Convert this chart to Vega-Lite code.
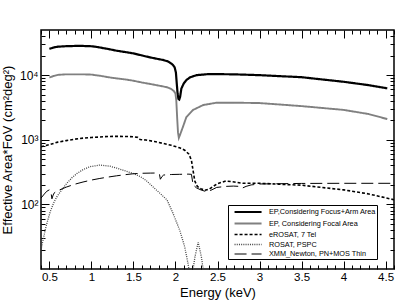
{
  "$schema": "https://vega.github.io/schema/vega-lite/v6.json",
  "width": 353,
  "height": 239,
  "autosize": {"type": "none"},
  "padding": {"left": 41, "top": 30, "right": 13, "bottom": 31},
  "config": {
    "font": "Liberation Sans",
    "view": {"stroke": "black", "strokeWidth": 1.5},
    "axis": {"grid": false, "domain": false, "tickColor": "black", "tickWidth": 1, "labelColor": "black", "titleColor": "black", "labelFlush": false, "titleFontWeight": "normal"}
  },
  "data": {"values": [
    {"s":"EP,Considering Focus+Arm Area","e":0.50,"v":25500},
    {"s":"EP,Considering Focus+Arm Area","e":0.55,"v":26800},
    {"s":"EP,Considering Focus+Arm Area","e":0.60,"v":27600},
    {"s":"EP,Considering Focus+Arm Area","e":0.70,"v":28100},
    {"s":"EP,Considering Focus+Arm Area","e":0.80,"v":28300},
    {"s":"EP,Considering Focus+Arm Area","e":0.90,"v":28300},
    {"s":"EP,Considering Focus+Arm Area","e":1.00,"v":28000},
    {"s":"EP,Considering Focus+Arm Area","e":1.05,"v":27500},
    {"s":"EP,Considering Focus+Arm Area","e":1.10,"v":26800},
    {"s":"EP,Considering Focus+Arm Area","e":1.20,"v":25400},
    {"s":"EP,Considering Focus+Arm Area","e":1.30,"v":23900},
    {"s":"EP,Considering Focus+Arm Area","e":1.40,"v":22800},
    {"s":"EP,Considering Focus+Arm Area","e":1.50,"v":21700},
    {"s":"EP,Considering Focus+Arm Area","e":1.60,"v":20200},
    {"s":"EP,Considering Focus+Arm Area","e":1.70,"v":18800},
    {"s":"EP,Considering Focus+Arm Area","e":1.80,"v":17700},
    {"s":"EP,Considering Focus+Arm Area","e":1.85,"v":17200},
    {"s":"EP,Considering Focus+Arm Area","e":1.90,"v":16500},
    {"s":"EP,Considering Focus+Arm Area","e":1.93,"v":15800},
    {"s":"EP,Considering Focus+Arm Area","e":1.97,"v":14400},
    {"s":"EP,Considering Focus+Arm Area","e":1.99,"v":13200},
    {"s":"EP,Considering Focus+Arm Area","e":2.005,"v":11000},
    {"s":"EP,Considering Focus+Arm Area","e":2.015,"v":7500},
    {"s":"EP,Considering Focus+Arm Area","e":2.025,"v":5200},
    {"s":"EP,Considering Focus+Arm Area","e":2.035,"v":4300},
    {"s":"EP,Considering Focus+Arm Area","e":2.045,"v":4200},
    {"s":"EP,Considering Focus+Arm Area","e":2.055,"v":4600},
    {"s":"EP,Considering Focus+Arm Area","e":2.07,"v":6200},
    {"s":"EP,Considering Focus+Arm Area","e":2.10,"v":7500},
    {"s":"EP,Considering Focus+Arm Area","e":2.13,"v":8400},
    {"s":"EP,Considering Focus+Arm Area","e":2.17,"v":9200},
    {"s":"EP,Considering Focus+Arm Area","e":2.25,"v":10000},
    {"s":"EP,Considering Focus+Arm Area","e":2.40,"v":10400},
    {"s":"EP,Considering Focus+Arm Area","e":2.70,"v":10300},
    {"s":"EP,Considering Focus+Arm Area","e":3.00,"v":10000},
    {"s":"EP,Considering Focus+Arm Area","e":3.50,"v":9300},
    {"s":"EP,Considering Focus+Arm Area","e":4.00,"v":7900},
    {"s":"EP,Considering Focus+Arm Area","e":4.30,"v":7000},
    {"s":"EP,Considering Focus+Arm Area","e":4.52,"v":6250},
    {"s":"EP, Considering Focal Area","e":0.50,"v":9200},
    {"s":"EP, Considering Focal Area","e":0.55,"v":9700},
    {"s":"EP, Considering Focal Area","e":0.60,"v":10100},
    {"s":"EP, Considering Focal Area","e":0.70,"v":10300},
    {"s":"EP, Considering Focal Area","e":0.80,"v":10300},
    {"s":"EP, Considering Focal Area","e":0.90,"v":10300},
    {"s":"EP, Considering Focal Area","e":1.00,"v":10200},
    {"s":"EP, Considering Focal Area","e":1.10,"v":9800},
    {"s":"EP, Considering Focal Area","e":1.20,"v":9300},
    {"s":"EP, Considering Focal Area","e":1.30,"v":8900},
    {"s":"EP, Considering Focal Area","e":1.40,"v":8600},
    {"s":"EP, Considering Focal Area","e":1.50,"v":8200},
    {"s":"EP, Considering Focal Area","e":1.60,"v":7700},
    {"s":"EP, Considering Focal Area","e":1.70,"v":7300},
    {"s":"EP, Considering Focal Area","e":1.80,"v":6900},
    {"s":"EP, Considering Focal Area","e":1.90,"v":6500},
    {"s":"EP, Considering Focal Area","e":1.95,"v":6100},
    {"s":"EP, Considering Focal Area","e":1.98,"v":5700},
    {"s":"EP, Considering Focal Area","e":2.00,"v":5200},
    {"s":"EP, Considering Focal Area","e":2.01,"v":4000},
    {"s":"EP, Considering Focal Area","e":2.02,"v":2200},
    {"s":"EP, Considering Focal Area","e":2.03,"v":1300},
    {"s":"EP, Considering Focal Area","e":2.04,"v":1070},
    {"s":"EP, Considering Focal Area","e":2.06,"v":1250},
    {"s":"EP, Considering Focal Area","e":2.09,"v":1600},
    {"s":"EP, Considering Focal Area","e":2.13,"v":2250},
    {"s":"EP, Considering Focal Area","e":2.21,"v":2900},
    {"s":"EP, Considering Focal Area","e":2.33,"v":3450},
    {"s":"EP, Considering Focal Area","e":2.49,"v":3750},
    {"s":"EP, Considering Focal Area","e":2.70,"v":3750},
    {"s":"EP, Considering Focal Area","e":3.00,"v":3700},
    {"s":"EP, Considering Focal Area","e":3.50,"v":3320},
    {"s":"EP, Considering Focal Area","e":4.00,"v":2900},
    {"s":"EP, Considering Focal Area","e":4.30,"v":2500},
    {"s":"EP, Considering Focal Area","e":4.52,"v":2090},
    {"s":"eROSAT, 7 Tel","e":0.40,"v":780},
    {"s":"eROSAT, 7 Tel","e":0.50,"v":840},
    {"s":"eROSAT, 7 Tel","e":0.60,"v":920},
    {"s":"eROSAT, 7 Tel","e":0.70,"v":970},
    {"s":"eROSAT, 7 Tel","e":0.80,"v":1020},
    {"s":"eROSAT, 7 Tel","e":0.90,"v":1060},
    {"s":"eROSAT, 7 Tel","e":1.00,"v":1085},
    {"s":"eROSAT, 7 Tel","e":1.10,"v":1105},
    {"s":"eROSAT, 7 Tel","e":1.20,"v":1125},
    {"s":"eROSAT, 7 Tel","e":1.30,"v":1130},
    {"s":"eROSAT, 7 Tel","e":1.40,"v":1125},
    {"s":"eROSAT, 7 Tel","e":1.50,"v":1115},
    {"s":"eROSAT, 7 Tel","e":1.55,"v":1090},
    {"s":"eROSAT, 7 Tel","e":1.58,"v":1010},
    {"s":"eROSAT, 7 Tel","e":1.65,"v":990},
    {"s":"eROSAT, 7 Tel","e":1.75,"v":940},
    {"s":"eROSAT, 7 Tel","e":1.85,"v":880},
    {"s":"eROSAT, 7 Tel","e":1.95,"v":820},
    {"s":"eROSAT, 7 Tel","e":2.05,"v":750},
    {"s":"eROSAT, 7 Tel","e":2.11,"v":690},
    {"s":"eROSAT, 7 Tel","e":2.16,"v":600},
    {"s":"eROSAT, 7 Tel","e":2.19,"v":480},
    {"s":"eROSAT, 7 Tel","e":2.21,"v":330},
    {"s":"eROSAT, 7 Tel","e":2.23,"v":230},
    {"s":"eROSAT, 7 Tel","e":2.26,"v":190},
    {"s":"eROSAT, 7 Tel","e":2.30,"v":175},
    {"s":"eROSAT, 7 Tel","e":2.35,"v":165},
    {"s":"eROSAT, 7 Tel","e":2.40,"v":172},
    {"s":"eROSAT, 7 Tel","e":2.50,"v":210},
    {"s":"eROSAT, 7 Tel","e":2.60,"v":230},
    {"s":"eROSAT, 7 Tel","e":2.70,"v":222},
    {"s":"eROSAT, 7 Tel","e":2.80,"v":212},
    {"s":"eROSAT, 7 Tel","e":3.00,"v":212},
    {"s":"eROSAT, 7 Tel","e":3.50,"v":198},
    {"s":"eROSAT, 7 Tel","e":4.00,"v":168},
    {"s":"eROSAT, 7 Tel","e":4.30,"v":145},
    {"s":"eROSAT, 7 Tel","e":4.60,"v":118},
    {"s":"ROSAT, PSPC","e":0.40,"v":20},
    {"s":"ROSAT, PSPC","e":0.45,"v":40},
    {"s":"ROSAT, PSPC","e":0.47,"v":51},
    {"s":"ROSAT, PSPC","e":0.51,"v":77},
    {"s":"ROSAT, PSPC","e":0.55,"v":105},
    {"s":"ROSAT, PSPC","e":0.59,"v":132},
    {"s":"ROSAT, PSPC","e":0.65,"v":170},
    {"s":"ROSAT, PSPC","e":0.71,"v":214},
    {"s":"ROSAT, PSPC","e":0.77,"v":260},
    {"s":"ROSAT, PSPC","e":0.83,"v":302},
    {"s":"ROSAT, PSPC","e":0.90,"v":345},
    {"s":"ROSAT, PSPC","e":0.98,"v":383},
    {"s":"ROSAT, PSPC","e":1.10,"v":406},
    {"s":"ROSAT, PSPC","e":1.22,"v":390},
    {"s":"ROSAT, PSPC","e":1.30,"v":365},
    {"s":"ROSAT, PSPC","e":1.38,"v":337},
    {"s":"ROSAT, PSPC","e":1.50,"v":300},
    {"s":"ROSAT, PSPC","e":1.58,"v":270},
    {"s":"ROSAT, PSPC","e":1.65,"v":235},
    {"s":"ROSAT, PSPC","e":1.73,"v":188},
    {"s":"ROSAT, PSPC","e":1.80,"v":155},
    {"s":"ROSAT, PSPC","e":1.90,"v":117},
    {"s":"ROSAT, PSPC","e":1.97,"v":73},
    {"s":"ROSAT, PSPC","e":2.05,"v":40},
    {"s":"ROSAT, PSPC","e":2.11,"v":22},
    {"s":"ROSAT, PSPC","e":2.15,"v":12},
    {"s":"ROSAT, PSPC","e":2.17,"v":8},
    {"s":"ROSAT, PSPC","e":2.20,"v":8},
    {"s":"ROSAT, PSPC","e":2.23,"v":15},
    {"s":"ROSAT, PSPC","e":2.27,"v":26},
    {"s":"ROSAT, PSPC","e":2.31,"v":15},
    {"s":"ROSAT, PSPC","e":2.34,"v":8},
    {"s":"XMM_Newton, PN+MOS Thin","e":0.40,"v":125},
    {"s":"XMM_Newton, PN+MOS Thin","e":0.44,"v":145},
    {"s":"XMM_Newton, PN+MOS Thin","e":0.47,"v":160},
    {"s":"XMM_Newton, PN+MOS Thin","e":0.50,"v":168},
    {"s":"XMM_Newton, PN+MOS Thin","e":0.52,"v":150},
    {"s":"XMM_Newton, PN+MOS Thin","e":0.53,"v":122},
    {"s":"XMM_Newton, PN+MOS Thin","e":0.545,"v":140},
    {"s":"XMM_Newton, PN+MOS Thin","e":0.56,"v":152},
    {"s":"XMM_Newton, PN+MOS Thin","e":0.60,"v":163},
    {"s":"XMM_Newton, PN+MOS Thin","e":0.70,"v":185},
    {"s":"XMM_Newton, PN+MOS Thin","e":0.80,"v":205},
    {"s":"XMM_Newton, PN+MOS Thin","e":0.90,"v":222},
    {"s":"XMM_Newton, PN+MOS Thin","e":1.00,"v":238},
    {"s":"XMM_Newton, PN+MOS Thin","e":1.10,"v":252},
    {"s":"XMM_Newton, PN+MOS Thin","e":1.20,"v":265},
    {"s":"XMM_Newton, PN+MOS Thin","e":1.30,"v":277},
    {"s":"XMM_Newton, PN+MOS Thin","e":1.40,"v":288},
    {"s":"XMM_Newton, PN+MOS Thin","e":1.50,"v":298},
    {"s":"XMM_Newton, PN+MOS Thin","e":1.60,"v":303},
    {"s":"XMM_Newton, PN+MOS Thin","e":1.70,"v":305},
    {"s":"XMM_Newton, PN+MOS Thin","e":1.78,"v":306},
    {"s":"XMM_Newton, PN+MOS Thin","e":1.81,"v":290},
    {"s":"XMM_Newton, PN+MOS Thin","e":1.82,"v":245},
    {"s":"XMM_Newton, PN+MOS Thin","e":1.84,"v":270},
    {"s":"XMM_Newton, PN+MOS Thin","e":1.86,"v":285},
    {"s":"XMM_Newton, PN+MOS Thin","e":1.95,"v":290},
    {"s":"XMM_Newton, PN+MOS Thin","e":2.05,"v":292},
    {"s":"XMM_Newton, PN+MOS Thin","e":2.15,"v":294},
    {"s":"XMM_Newton, PN+MOS Thin","e":2.19,"v":292},
    {"s":"XMM_Newton, PN+MOS Thin","e":2.21,"v":200},
    {"s":"XMM_Newton, PN+MOS Thin","e":2.25,"v":180},
    {"s":"XMM_Newton, PN+MOS Thin","e":2.30,"v":168},
    {"s":"XMM_Newton, PN+MOS Thin","e":2.37,"v":157},
    {"s":"XMM_Newton, PN+MOS Thin","e":2.42,"v":165},
    {"s":"XMM_Newton, PN+MOS Thin","e":2.49,"v":183},
    {"s":"XMM_Newton, PN+MOS Thin","e":2.60,"v":190},
    {"s":"XMM_Newton, PN+MOS Thin","e":2.69,"v":192},
    {"s":"XMM_Newton, PN+MOS Thin","e":2.76,"v":190},
    {"s":"XMM_Newton, PN+MOS Thin","e":2.80,"v":180},
    {"s":"XMM_Newton, PN+MOS Thin","e":2.84,"v":190},
    {"s":"XMM_Newton, PN+MOS Thin","e":2.90,"v":200},
    {"s":"XMM_Newton, PN+MOS Thin","e":3.00,"v":207},
    {"s":"XMM_Newton, PN+MOS Thin","e":3.50,"v":211},
    {"s":"XMM_Newton, PN+MOS Thin","e":4.00,"v":212},
    {"s":"XMM_Newton, PN+MOS Thin","e":4.60,"v":212}
  ]},
  "layer": [
    {
      "mark": {"type": "line", "clip": true},
      "encoding": {
        "x": {"field": "e", "type": "quantitative", "scale": {"domain": [0.4, 4.6], "nice": false, "zero": false},
          "axis": {"orient": "bottom", "values": [0.5,1,1.5,2,2.5,3,3.5,4,4.5], "tickSize": -8, "labelPadding": 10, "labelFontSize": 11.5, "format": "~g", "title": "Energy (keV)", "titleFontSize": 13, "titleBaseline": "alphabetic", "titleY": 27}},
        "y": {"field": "v", "type": "quantitative", "scale": {"type": "log", "domain": [10, 50000], "nice": false},
          "axis": {"orient": "left", "values": [100, 1000, 10000], "tickSize": -8, "labelPadding": 11, "labelFontSize": 12,
            "labelExpr": "datum.value == 100 ? '10²' : datum.value == 1000 ? '10³' : '10⁴'",
            "title": "Effective Area*FoV (cm²deg²)", "titleFontSize": 13, "titlePadding": 5}},
        "color": {"field": "s", "type": "nominal",
          "scale": {"domain": ["EP,Considering Focus+Arm Area","EP, Considering Focal Area","eROSAT, 7 Tel","ROSAT, PSPC","XMM_Newton, PN+MOS Thin"],
            "range": ["#000000","#808080","#000000","#444444","#000000"]},
          "legend": {"title": null, "orient": "none", "legendX": 187, "legendY": 175, "strokeColor": "black", "fillColor": "white", "padding": 1, "labelFontSize": 7.3, "symbolType": "M-0.1,0H5.9", "symbolSize": 81, "rowPadding": 1, "labelOffset": 28, "labelColor": "black", "cornerRadius": 0, "labelExpr": "datum.label + '      '"}},
        "strokeDash": {"field": "s", "type": "nominal",
          "scale": {"domain": ["EP,Considering Focus+Arm Area","EP, Considering Focal Area","eROSAT, 7 Tel","ROSAT, PSPC","XMM_Newton, PN+MOS Thin"],
            "range": [[1,0],[1,0],[3,2],[1,1.2],[12,5]]}},
        "strokeWidth": {"field": "s", "type": "nominal",
          "scale": {"domain": ["EP,Considering Focus+Arm Area","EP, Considering Focal Area","eROSAT, 7 Tel","ROSAT, PSPC","XMM_Newton, PN+MOS Thin"],
            "range": [2.2, 1, 2, 1.5, 2]}}
      }
    },
    {
      "mark": {"type": "line", "opacity": 0, "clip": true},
      "encoding": {
        "x": {"field": "e", "type": "quantitative",
          "axis": {"orient": "bottom", "values": [0.4,0.6,0.7,0.8,0.9,1.1,1.2,1.3,1.4,1.6,1.7,1.8,1.9,2.1,2.2,2.3,2.4,2.6,2.7,2.8,2.9,3.1,3.2,3.3,3.4,3.6,3.7,3.8,3.9,4.1,4.2,4.3,4.4,4.6], "tickSize": -4, "labels": false, "title": null}},
        "y": {"field": "v", "type": "quantitative",
          "axis": {"orient": "left", "values": [20,30,40,50,60,70,80,90,200,300,400,500,600,700,800,900,2000,3000,4000,5000,6000,7000,8000,9000,20000,30000,40000], "tickSize": -4, "labels": false, "title": null}},
        "detail": {"field": "s"}
      }
    },
    {
      "mark": {"type": "line", "opacity": 0, "clip": true},
      "encoding": {
        "x": {"field": "e", "type": "quantitative",
          "axis": {"orient": "top", "values": [0.5,1,1.5,2,2.5,3,3.5,4,4.5], "tickSize": -8, "labels": false, "title": null}},
        "y": {"field": "v", "type": "quantitative",
          "axis": {"orient": "right", "values": [100, 1000, 10000], "tickSize": -8, "labels": false, "title": null}},
        "detail": {"field": "s"}
      }
    },
    {
      "mark": {"type": "line", "opacity": 0, "clip": true},
      "encoding": {
        "x": {"field": "e", "type": "quantitative",
          "axis": {"orient": "top", "values": [0.4,0.6,0.7,0.8,0.9,1.1,1.2,1.3,1.4,1.6,1.7,1.8,1.9,2.1,2.2,2.3,2.4,2.6,2.7,2.8,2.9,3.1,3.2,3.3,3.4,3.6,3.7,3.8,3.9,4.1,4.2,4.3,4.4,4.6], "tickSize": -4, "labels": false, "title": null}},
        "y": {"field": "v", "type": "quantitative",
          "axis": {"orient": "right", "values": [20,30,40,50,60,70,80,90,200,300,400,500,600,700,800,900,2000,3000,4000,5000,6000,7000,8000,9000,20000,30000,40000], "tickSize": -4, "labels": false, "title": null}},
        "detail": {"field": "s"}
      }
    }
  ],
  "resolve": {"axis": {"x": "independent", "y": "independent"}}
}
